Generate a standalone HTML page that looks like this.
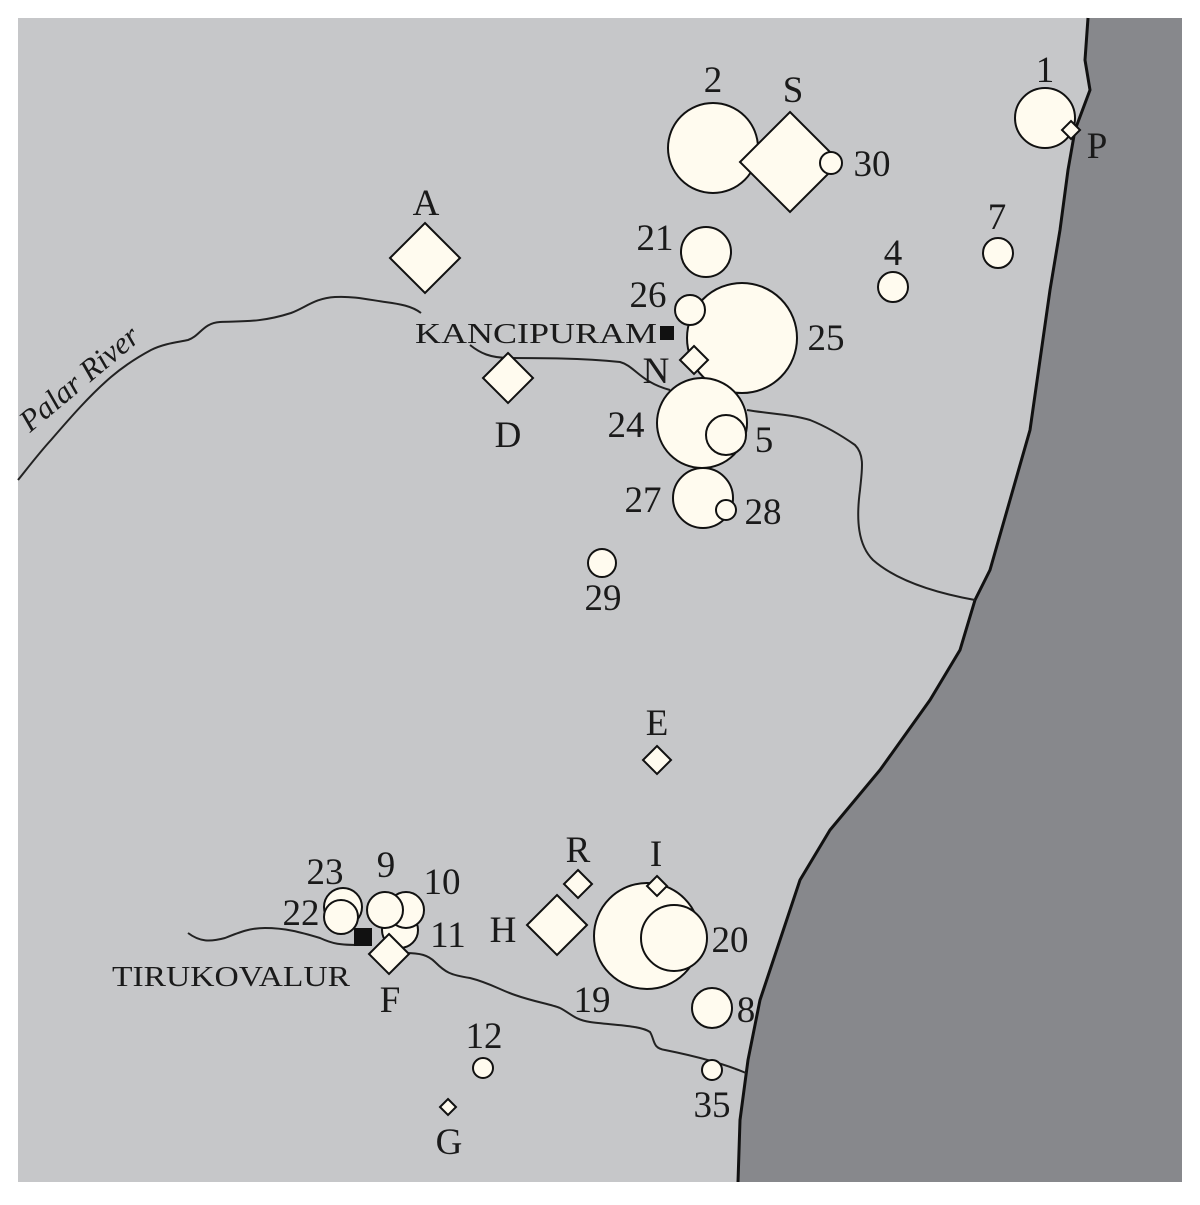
<!DOCTYPE html>
<html><head><style>html,body{margin:0;padding:0;background:#fff}</style></head>
<body>
<svg width="1200" height="1200" viewBox="0 0 1200 1200" xmlns="http://www.w3.org/2000/svg" font-family="Liberation Serif, serif">
<rect x="18" y="18" width="1164" height="1164" fill="#c6c7c9"/>
<path d="M1088,18 L1085,60 L1090,90 L1075,130 L1068,170 L1060,230 L1050,290 L1040,360 L1030,430 L1010,500 L990,570 L975,600 L960,650 L930,700 L880,770 L830,830 L800,880 L780,940 L760,1000 L748,1060 L740,1120 L738,1182 L1182,1182 L1182,18 Z" fill="#87888c"/>
<path d="M1088,18 L1085,60 L1090,90 L1075,130 L1068,170 L1060,230 L1050,290 L1040,360 L1030,430 L1010,500 L990,570 L975,600 L960,650 L930,700 L880,770 L830,830 L800,880 L780,940 L760,1000 L748,1060 L740,1120 L738,1182" fill="none" stroke="#111" stroke-width="3"/>
<g fill="none" stroke="#222" stroke-width="2">
<path d="M18,480 C30,465 40,452 51,440 C70,418 90,395 111,377 C125,365 138,357 151,350 C165,343 180,342 188,340 C200,336 203,323 220,322 C240,321 260,323 291,313 C305,308 315,298 335,297 C355,296 370,300 385,302 C400,304 412,306 421,313"/>
<path d="M470,345 C480,353 490,358 510,358 C540,358 580,358 620,362 C635,366 640,382 670,390"/>
<path d="M747,410 C770,414 790,414 810,420 C830,428 845,438 855,445 C865,455 862,470 860,490 C856,520 858,545 873,560 C890,575 920,590 975,600"/>
<path d="M188,933 C200,942 210,942 225,938 C240,932 250,928 265,928 C285,928 300,932 320,938 C333,944 340,945 360,945"/>
<path d="M405,953 C420,953 428,955 435,962 C445,972 450,975 470,978 C490,983 500,990 515,995 C535,1002 550,1004 560,1008 C570,1013 575,1020 590,1022 C610,1025 640,1025 650,1032 C655,1040 652,1048 665,1050 C690,1055 720,1062 746,1073"/>
</g>
<g fill="#fffbef" stroke="#111" stroke-width="2">
<circle cx="713" cy="148" r="45"/>
<polygon points="790,112 840,162 790,212 740,162"/>
<circle cx="831" cy="163" r="11"/>
<circle cx="1045" cy="118" r="30"/>
<polygon points="1071,121 1080,130 1071,139 1062,130"/>
<circle cx="706" cy="252" r="25"/>
<circle cx="893" cy="287" r="15"/>
<circle cx="998" cy="253" r="15"/>
<circle cx="742" cy="338" r="55"/>
<circle cx="690" cy="310" r="15"/>
<polygon points="694,346 708,360 694,374 680,360"/>
<circle cx="702" cy="423" r="45"/>
<circle cx="726" cy="435" r="20"/>
<circle cx="703" cy="498" r="30"/>
<circle cx="726" cy="510" r="10"/>
<circle cx="602" cy="563" r="14"/>
<polygon points="425,223 460,258 425,293 390,258"/>
<polygon points="508,353 533,378 508,403 483,378"/>
<polygon points="657,746 671,760 657,774 643,760"/>
<circle cx="343" cy="907" r="19"/>
<circle cx="341" cy="917" r="17"/>
<circle cx="400" cy="930" r="18"/>
<circle cx="406" cy="910" r="18"/>
<circle cx="385" cy="910" r="18"/>
<polygon points="578,870 592,884 578,898 564,884"/>
<polygon points="557,895 587,925 557,955 527,925"/>
<circle cx="647" cy="936" r="53"/>
<circle cx="674" cy="938" r="33"/>
<polygon points="657,876 667,886 657,896 647,886"/>
<circle cx="712" cy="1008" r="20"/>
<circle cx="483" cy="1068" r="10"/>
<circle cx="712" cy="1070" r="10"/>
<polygon points="448,1099 456,1107 448,1115 440,1107"/>
</g>
<rect x="660" y="326" width="14" height="14" fill="#111"/>
<rect x="354" y="928" width="18" height="18" fill="#111"/>
<polygon points="389,934 409,954 389,974 369,954" fill="#fffbef" stroke="#111" stroke-width="2"/>
<g font-size="37" fill="#1a1a1a" text-anchor="middle">
<text x="713" y="92">2</text><text x="793" y="102">S</text><text x="872" y="176">30</text>
<text x="1045" y="82">1</text><text x="1097" y="158">P</text><text x="997" y="229">7</text>
<text x="893" y="265">4</text><text x="655" y="250">21</text><text x="648" y="307">26</text>
<text x="826" y="350">25</text><text x="656" y="383">N</text><text x="626" y="437">24</text>
<text x="764" y="452">5</text><text x="643" y="512">27</text><text x="763" y="524">28</text>
<text x="603" y="610">29</text><text x="426" y="215">A</text><text x="508" y="447">D</text>
<text x="657" y="735">E</text><text x="325" y="884">23</text><text x="386" y="877">9</text>
<text x="442" y="894">10</text><text x="301" y="925">22</text><text x="448" y="947">11</text>
<text x="503" y="942">H</text><text x="578" y="862">R</text><text x="656" y="866">I</text>
<text x="730" y="952">20</text><text x="592" y="1012">19</text><text x="746" y="1022">8</text>
<text x="484" y="1048">12</text><text x="712" y="1117">35</text><text x="390" y="1012">F</text>
<text x="449" y="1154">G</text>
</g>
<text x="415" y="343" font-size="28" fill="#1a1a1a" textLength="242" lengthAdjust="spacingAndGlyphs">KANCIPURAM</text>
<text x="112" y="986" font-size="28" fill="#1a1a1a" textLength="238" lengthAdjust="spacingAndGlyphs">TIRUKOVALUR</text>
<text x="0" y="0" font-size="31" font-style="italic" fill="#1a1a1a" transform="translate(30,433) rotate(-40)">Palar River</text>
</svg>
</body></html>
